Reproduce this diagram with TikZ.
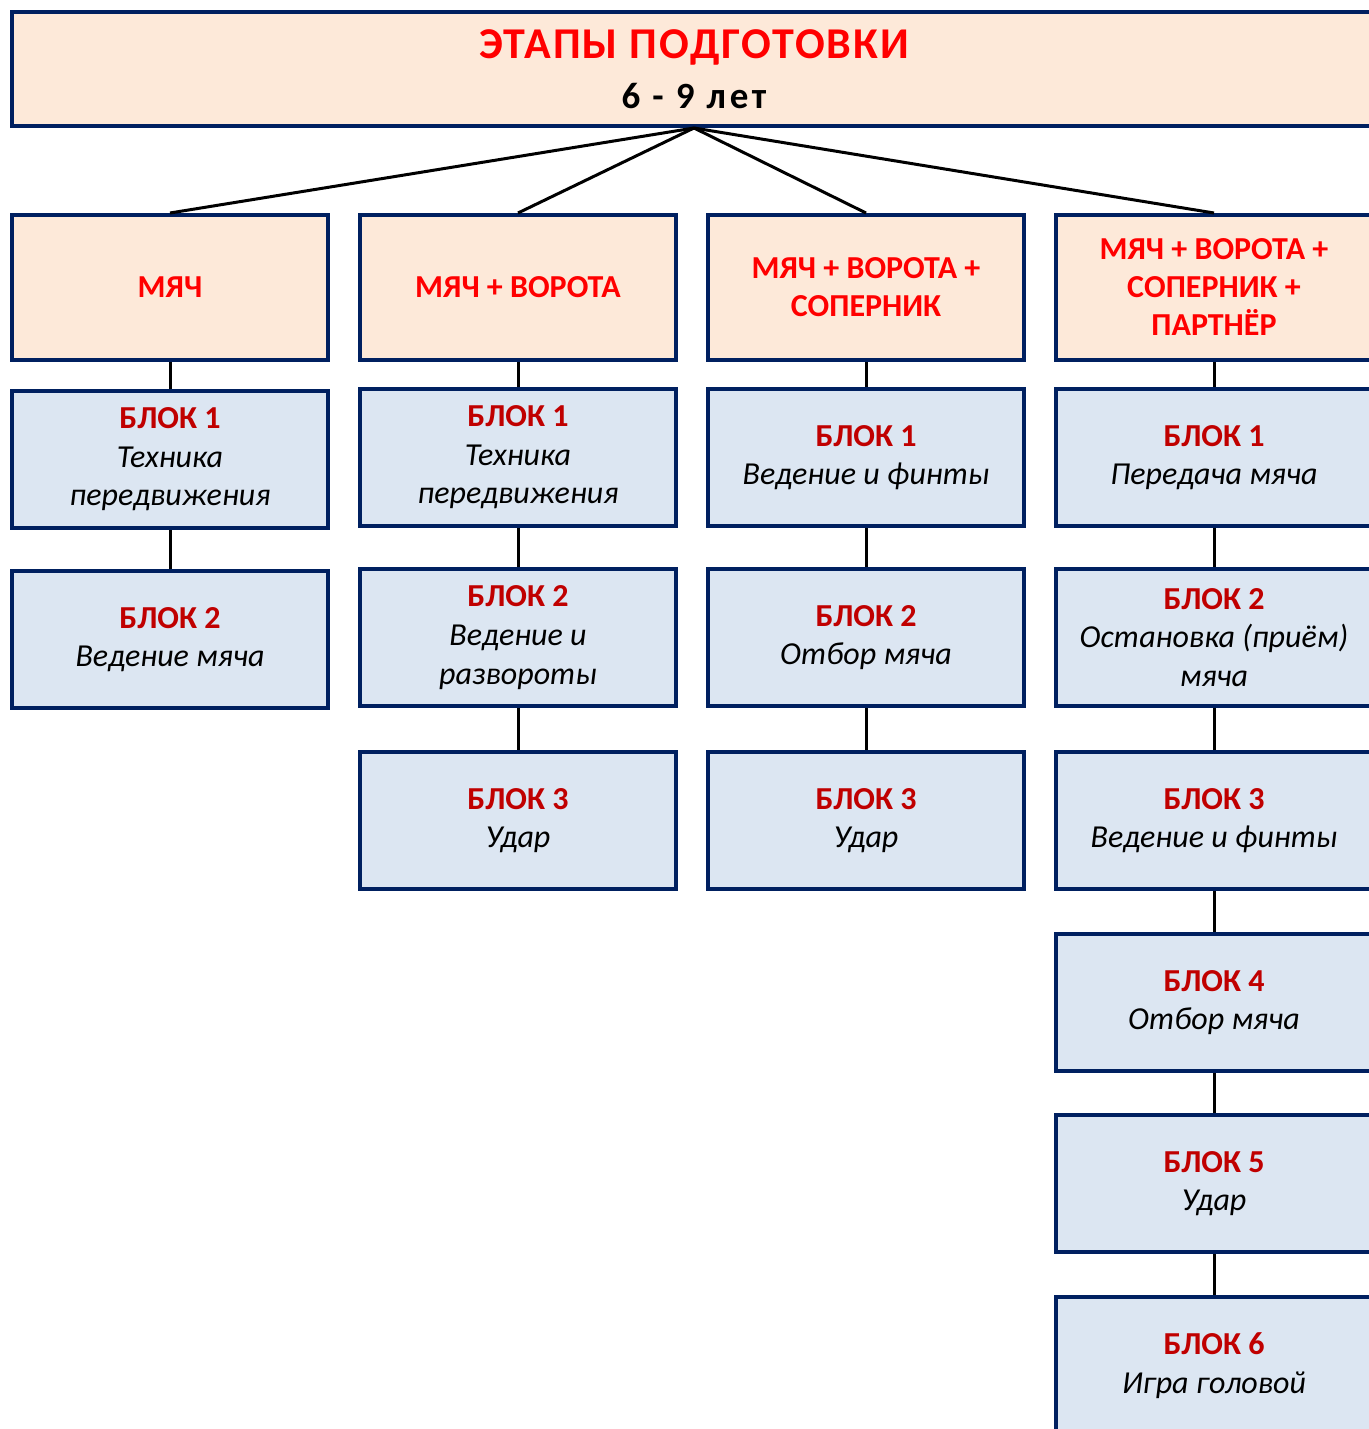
\documentclass[tikz,border=0pt]{standalone}
\usepackage{fontspec}
\setmainfont{Carlito}
\definecolor{navy}{RGB}{0,32,96}
\definecolor{peach}{RGB}{253,233,217}
\definecolor{paleblue}{RGB}{220,230,242}
\definecolor{darkred}{RGB}{192,0,0}
\newcommand{\blk}[1]{{\upshape\bfseries\color{darkred}БЛОК #1}}
\tikzset{every picture/.style={line width=0.75pt}}

\begin{document}
\begin{tikzpicture}[x=0.5pt,y=0.5pt,yscale=-1,xscale=1,
	box/.style={draw=navy,line width=2pt,align=center,minimum width=158pt,inner sep=0pt},
	stagebox/.style={box,fill=peach,minimum height=72.5pt,text=red,font=\bfseries\fontsize{16}{19}\selectfont},
	blockbox/.style={box,fill=paleblue,minimum height=68.5pt,font=\itshape\fontsize{16}{19.3}\selectfont},
	link/.style={line width=1.5pt}]
		\useasboundingbox (0,0) rectangle (1369,1429);
		\clip (0,0) rectangle (1369,1429);

		% Title
		\node[box,fill=peach,minimum width=682pt,minimum height=57pt] (stage) at (694,69)
			{{\color{red}\bfseries\fontsize{22}{22.5}\selectfont\addfontfeatures{LetterSpace=4.5}ЭТАПЫ ПОДГОТОВКИ}\\[8pt]
			 {\bfseries\fontsize{18.5}{19}\selectfont\addfontfeatures{LetterSpace=10}6 - 9 лет}};

		% Stages
		\node[stagebox] (s1) at (170,287.5) {МЯЧ};
		\node[stagebox] (s2) at (518,287.5) {МЯЧ + ВОРОТА};
		\node[stagebox] (s3) at (866,287.5) {МЯЧ + ВОРОТА +\\ СОПЕРНИК};
		\node[stagebox] (s4) at (1214,287.5) {МЯЧ + ВОРОТА +\\ СОПЕРНИК +\\ ПАРТНЁР};

		% Column 1
		\node[blockbox] (a1) at (170,459.5) {\blk{1}\\ Техника\\ передвижения};
		\node[blockbox] (a2) at (170,639.5) {\blk{2}\\ Ведение мяча};

		% Column 2
		\node[blockbox] (b1) at (518,457.5) {\blk{1}\\ Техника\\ передвижения};
		\node[blockbox] (b2) at (518,637.5) {\blk{2}\\ Ведение и\\ развороты};
		\node[blockbox] (b3) at (518,820.5) {\blk{3}\\ Удар};

		% Column 3
		\node[blockbox] (c1) at (866,457.5) {\blk{1}\\ Ведение и финты};
		\node[blockbox] (c2) at (866,637.5) {\blk{2}\\ Отбор мяча};
		\node[blockbox] (c3) at (866,820.5) {\blk{3}\\ Удар};

		% Column 4
		\node[blockbox] (d1) at (1214,457.5) {\blk{1}\\ Передача мяча};
		\node[blockbox] (d2) at (1214,637.5) {\blk{2}\\ Остановка (приём)\\ мяча};
		\node[blockbox] (d3) at (1214,820.5) {\blk{3}\\ Ведение и финты};
		\node[blockbox] (d4) at (1214,1002.5) {\blk{4}\\ Отбор мяча};
		\node[blockbox] (d5) at (1214,1183.5) {\blk{5}\\ Удар};
		\node[blockbox] (d6) at (1214,1365.5) {\blk{6}\\ Игра головой};

		% Links
		\foreach \s in {s1,s2,s3,s4}
			\draw[link] (stage.south) -- (\s.north);
		\draw[link] (s1) -- (a1);
		\draw[link] (a1) -- (a2);
		\draw[link] (s2) -- (b1);
		\draw[link] (b1) -- (b2);
		\draw[link] (b2) -- (b3);
		\draw[link] (s3) -- (c1);
		\draw[link] (c1) -- (c2);
		\draw[link] (c2) -- (c3);
		\draw[link] (s4) -- (d1);
		\draw[link] (d1) -- (d2);
		\draw[link] (d2) -- (d3);
		\draw[link] (d3) -- (d4);
		\draw[link] (d4) -- (d5);
		\draw[link] (d5) -- (d6);

\end{tikzpicture}
\end{document}
